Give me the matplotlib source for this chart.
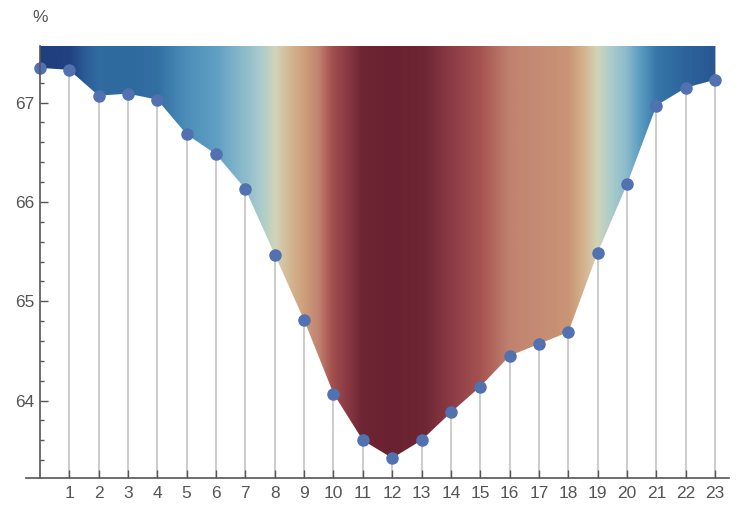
import numpy as np
import matplotlib
matplotlib.use("Agg")
import matplotlib.pyplot as plt
from matplotlib.colors import LinearSegmentedColormap
from matplotlib.patches import Polygon
from matplotlib.ticker import MultipleLocator

plt.rcParams['font.family'] = ['Liberation Sans', 'DejaVu Sans']

# hourly values (%)
hours = list(range(24))
values = [67.35, 67.33, 67.07, 67.09, 67.03, 66.68, 66.48, 66.13,
          65.47, 64.81, 64.07, 63.60, 63.42, 63.60, 63.88, 64.14,
          64.45, 64.57, 64.69, 65.49, 66.18, 66.97, 67.15, 67.23]
y_ticks = [64, 65, 66, 67]
y_low, y_top = 63.22, 67.57

# red -> cream -> blue tones
tone_pos = [0.0, 0.05, 0.12, 0.18, 0.26, 0.34, 0.43, 0.52, 0.61, 0.70,
            0.78, 0.84, 0.92, 0.96, 1.0]
tone_col = ['#6a2232', '#6e2634', '#8e3d47', '#a5524f', '#c08270',
            '#cc9a78', '#d4b48e', '#d1d4b8', '#a8cbcc', '#8abacb',
            '#5f9fc2', '#4a8cb8', '#3270a4', '#2b5e97', '#1f3f7e']
cmap = LinearSegmentedColormap.from_list('tones', list(zip(tone_pos, tone_col)))

fig = plt.figure(figsize=(7.44, 5.18), dpi=100)
ax = fig.add_axes([26 / 744, 40 / 518, 703 / 744, 432 / 518])

x = np.array(hours, dtype=float)
y = np.array(values)

# colour of each column follows the line value at that x
xs = np.linspace(x[0], x[-1], 1200)
ys = np.interp(xs, x, y)
norm = (ys - y.min()) / (y.max() - y.min())
img = ax.imshow(norm[np.newaxis, :], cmap=cmap, vmin=0, vmax=1, aspect='auto',
                extent=[x[0], x[-1], y_low, y_top], origin='lower',
                interpolation='bilinear', zorder=2)
verts = list(zip(x, y)) + [(x[-1], y_top), (x[0], y_top)]
clip = Polygon(verts, closed=True, transform=ax.transData, facecolor='none',
               edgecolor='none')
ax.add_patch(clip)
img.set_clip_path(clip)

# vertical grid lines under the fill
for h in hours[1:]:
    ax.axvline(h, color='#c8c8c8', lw=1.3, zorder=1)

ax.plot(x, y, 'o', color='#5171b0', markersize=8, zorder=4, clip_on=False)

ax.set_xlim(-0.47, 23.47)
ax.set_ylim(y_low, y_top)

for s in ['top', 'right']:
    ax.spines[s].set_visible(False)
ax.spines['left'].set_position(('data', 0))
ax.spines['left'].set_color('#555555')
ax.spines['bottom'].set_color('#555555')
ax.spines['left'].set_linewidth(1.2)
ax.spines['bottom'].set_linewidth(1.2)
ax.spines['left'].set_zorder(5)

ax.set_xticks(hours[1:])
ax.set_yticks(y_ticks)
ax.yaxis.set_minor_locator(MultipleLocator(0.2))
ax.tick_params(axis='both', which='major', direction='in', length=5.5,
               width=1.0, color='#555555', labelcolor='#555555',
               labelsize=12.5)
ax.tick_params(axis='y', which='minor', direction='in', length=3,
               width=1.0, color='#555555')
ax.tick_params(axis='x', pad=6)
ax.tick_params(axis='y', pad=4)

fig.text(40 / 744, 1 - 18 / 518, '%', ha='center', va='center',
         fontsize=12.5, color='#555555')

fig.savefig('out.png', dpi=100)
